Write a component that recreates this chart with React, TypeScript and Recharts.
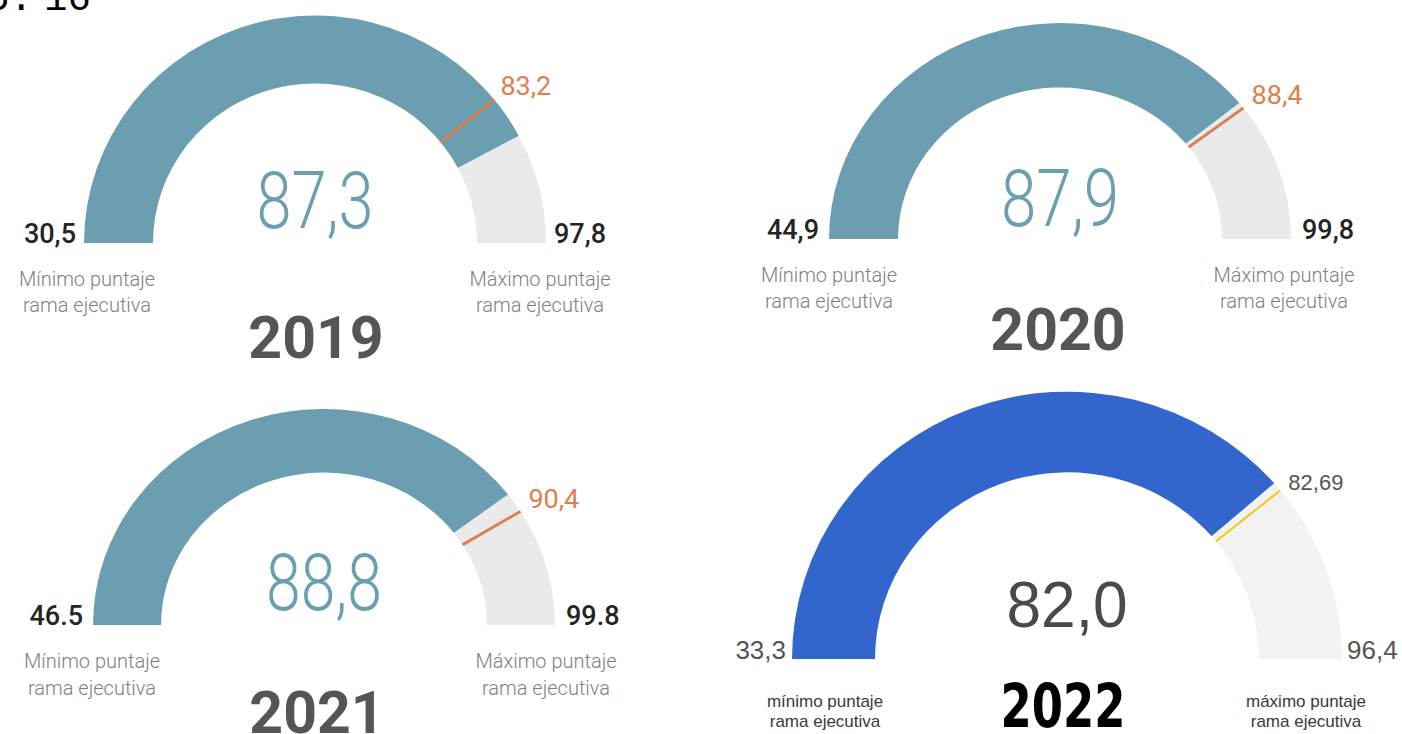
import { PieChart, Pie, Cell } from "recharts";

// values
const years = ["2019", "2020", "2021", "2022"];
const minScores = [30.5, 44.9, 46.5, 33.3];
const maxScores = [97.8, 99.8, 99.8, 96.4];
const scores = [87.3, 87.9, 88.8, 82.0];
const targets = [83.2, 88.4, 90.4, 82.69];

const minLabels = ["30,5", "44,9", "46.5", "33,3"];
const maxLabels = ["97,8", "99,8", "99.8", "96,4"];
const scoreLabels = ["87,3", "87,9", "88,8", "82,0"];
const targetLabels = ["83,2", "88,4", "90,4", "82,69"];
const minCaptions = [
  ["Mínimo puntaje", "rama ejecutiva"],
  ["Mínimo puntaje", "rama ejecutiva"],
  ["Mínimo puntaje", "rama ejecutiva"],
  ["mínimo puntaje", "rama ejecutiva"],
];
const maxCaptions = [
  ["Máximo puntaje", "rama ejecutiva"],
  ["Máximo puntaje", "rama ejecutiva"],
  ["Máximo puntaje", "rama ejecutiva"],
  ["máximo puntaje", "rama ejecutiva"],
];

const RAD = Math.PI / 180;
const W = 1402;
const H = 734;

const DIN = {
  font: "Roboto, 'Open Sans', sans-serif",
  fill: "#6A9EB0",
  rest: "#EAEAEA",
  marker: "#DE7E4C",
  markerWidth: 3,
  edge: "#252423",
  edgeSize: 27,
  edgeWeight: 500,
  value: "#6A9EB0",
  valueSize: 80,
  valueWeight: 300,
  year: "#555555",
  yearFont: "Roboto, sans-serif",
  yearSize: 59,
  yearWidth: 0,
  caption: "#808080",
  captionSize: 20,
  captionWeight: 300,
  targetSize: 27,
  targetWeight: 400,
};

const PBI = {
  font: "'Liberation Sans', Arial, sans-serif",
  fill: "#3366CC",
  rest: "#F3F2F1",
  marker: "#F2C80F",
  markerWidth: 2,
  edge: "#555555",
  edgeSize: 26,
  edgeWeight: 400,
  value: "#4A4A4A",
  valueSize: 64,
  valueWeight: 400,
  year: "#000000",
  yearFont: "'Liberation Sans Narrow', 'DejaVu Sans Condensed', sans-serif",
  yearSize: 60,
  yearWidth: 125,
  caption: "#3A3A3A",
  captionSize: 17,
  captionWeight: 400,
  targetSize: 22,
  targetWeight: 400,
  targetColor: "#555555",
};

// where each gauge sits on the page (sy squashes the arc vertically)
const LAYOUT = [
  { cx: 315, cy: 243, rIn: 162, rOut: 231, sy: 0.985, minX: 76, maxX: 554, valueY: 228, valueW: 117, yearX: 316, yearY: 358, capMin: 87, capMax: 540, capY: 286, capGap: 26, tdx: 6, tdy: -5 },
  { cx: 1060, cy: 239, rIn: 162, rOut: 231, sy: 0.935, minX: 819, maxX: 1302, valueY: 226, valueW: 118, yearX: 1058, yearY: 350, capMin: 829, capMax: 1284, capY: 282, capGap: 26, tdx: 8, tdy: -4 },
  { cx: 324, cy: 625, rIn: 163, rOut: 231, sy: 0.935, minX: 83, maxX: 566, valueY: 610, valueW: 116, yearX: 317, yearY: 733, capMin: 92, capMax: 546, capY: 668, capGap: 27, tdx: 8, tdy: -3 },
  { cx: 1067, cy: 659, rIn: 192, rOut: 275, sy: 0.972, minX: 786, maxX: 1347, valueY: 627, valueW: 121, yearX: 1063, yearY: 727, capMin: 825, capMax: 1306, capY: 707, capGap: 20, tdx: 8, tdy: 0 },
];

function Gauge({ i }: { i: number }) {
  const L = LAYOUT[i];
  const T: any = i === 3 ? PBI : DIN;
  const pad = 70;
  const w = L.rOut * 2 + pad * 2;
  const h = L.rOut + pad + 4;
  const cy = L.rOut + pad;

  const data = [
    { name: "puntaje", value: scores[i] - minScores[i] },
    { name: "resto", value: maxScores[i] - scores[i] },
  ];
  const targetData = [
    { name: "meta", value: targets[i] - minScores[i] },
    { name: "resto", value: maxScores[i] - targets[i] },
  ];

  const renderTarget = (p: any) => {
    if (p.index !== 0) return null;
    const a = -p.endAngle * RAD;
    const x1 = p.cx + p.innerRadius * Math.cos(a);
    const y1 = p.cy + p.innerRadius * Math.sin(a);
    const x2 = p.cx + p.outerRadius * Math.cos(a);
    const y2 = p.cy + p.outerRadius * Math.sin(a);
    return (
      <g>
        <line x1={x1} y1={y1} x2={x2} y2={y2} stroke={T.marker} strokeWidth={T.markerWidth} />
        <text
          x={x2 + L.tdx}
          y={y2 + L.tdy / L.sy}
          fill={T.targetColor ?? T.marker}
          fontFamily={T.font}
          fontSize={T.targetSize}
          fontWeight={T.targetWeight}
          textAnchor="start"
        >
          {targetLabels[i]}
        </text>
      </g>
    );
  };

  return (
    <div
      style={{
        position: "absolute",
        left: L.cx - w / 2,
        top: L.cy - cy,
        transform: `scaleY(${L.sy})`,
        transformOrigin: `${w / 2}px ${cy}px`,
      }}
    >
      <PieChart width={w} height={h} margin={{ top: 0, right: 0, bottom: 0, left: 0 }}>
        <Pie
          data={data}
          dataKey="value"
          cx={w / 2}
          cy={cy}
          startAngle={180}
          endAngle={0}
          innerRadius={L.rIn}
          outerRadius={L.rOut}
          stroke="none"
          isAnimationActive={false}
        >
          <Cell fill={T.fill} />
          <Cell fill={T.rest} />
        </Pie>
        <Pie
          data={targetData}
          dataKey="value"
          cx={w / 2}
          cy={cy}
          startAngle={180}
          endAngle={0}
          innerRadius={L.rIn}
          outerRadius={L.rOut}
          fill="none"
          stroke="none"
          label={renderTarget}
          labelLine={false}
          isAnimationActive={false}
        />
      </PieChart>
    </div>
  );
}

function GaugeTexts({ i }: { i: number }) {
  const L = LAYOUT[i];
  const T: any = i === 3 ? PBI : DIN;
  const cap = (x: number, lines: string[]) =>
    lines.map((s, k) => (
      <text
        key={k}
        x={x}
        y={L.capY + k * L.capGap}
        textAnchor="middle"
        fill={T.caption}
        fontFamily={T.font}
        fontSize={T.captionSize}
        fontWeight={T.captionWeight}
      >
        {s}
      </text>
    ));
  return (
    <g>
      <text x={L.minX} y={L.cy} textAnchor="end" fill={T.edge} fontFamily={T.font} fontSize={T.edgeSize} fontWeight={T.edgeWeight}>
        {minLabels[i]}
      </text>
      <text x={L.maxX} y={L.cy} textAnchor="start" fill={T.edge} fontFamily={T.font} fontSize={T.edgeSize} fontWeight={T.edgeWeight}>
        {maxLabels[i]}
      </text>
      <text
        x={L.cx}
        y={L.valueY}
        textAnchor="middle"
        fill={T.value}
        fontFamily={T.font}
        fontSize={T.valueSize}
        fontWeight={T.valueWeight}
        textLength={L.valueW}
        lengthAdjust="spacingAndGlyphs"
      >
        {scoreLabels[i]}
      </text>
      <text
        x={L.yearX}
        y={L.yearY}
        textAnchor="middle"
        fill={T.year}
        fontFamily={T.yearFont}
        fontSize={T.yearSize}
        fontWeight={700}
        {...(T.yearWidth ? { textLength: T.yearWidth, lengthAdjust: "spacingAndGlyphs" } : {})}
      >
        {years[i]}
      </text>
      {cap(L.capMin, minCaptions[i])}
      {cap(L.capMax, maxCaptions[i])}
    </g>
  );
}

export default function App() {
  return (
    <div style={{ position: "absolute", left: 0, top: 0, width: W, height: H, background: "#fff", overflow: "hidden" }}>
      {years.map((_, i) => (
        <Gauge key={i} i={i} />
      ))}
      <svg width={W} height={H} style={{ position: "absolute", left: 0, top: 0, pointerEvents: "none" }}>
        <text x={-14} y={10} fontFamily="'Liberation Mono', monospace" fontSize={39} fill="#000">
          5.
        </text>
        <text x={44} y={10} fontFamily="'Liberation Mono', monospace" fontSize={39} fill="#000">
          16
        </text>
        {years.map((_, i) => (
          <GaugeTexts key={i} i={i} />
        ))}
      </svg>
    </div>
  );
}
